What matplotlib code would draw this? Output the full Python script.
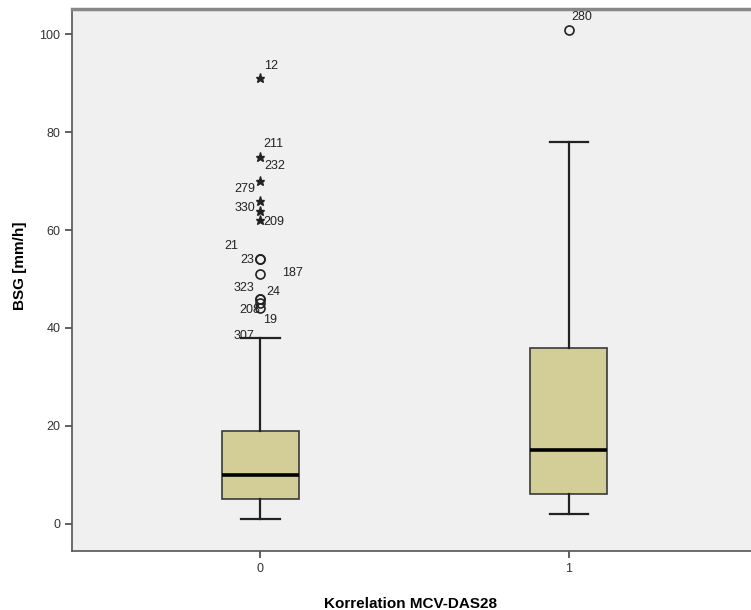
import matplotlib
matplotlib.use("Agg")
import matplotlib.pyplot as plt

# ---- data ----
groups = ["0", "1"]
q1 = [5, 6]
median = [10, 15]
q3 = [19, 36]
whislo = [1, 2]
whishi = [38, 78]

# outliers of group 0: case id, value, marker kind
g0_ids = ["12", "211", "232", "279", "330", "209", "21", "23", "187", "323", "24", "208", "19", "307"]
g0_vals = [91, 75, 70, 66, 64, 62, 54, 54, 51, 46, 46, 45, 44, 38]
g0_kind = ["*", "*", "*", "*", "*", "*", "o", "o", "o", "o", "o", "o", "o", ""]

# outliers of group 1
g1_ids = ["280"]
g1_vals = [101]
g1_kind = ["o"]

# label offsets in pixels (style only)
g0_off = [(11, 12), (13, 13), (14, 15), (-15, 12), (-15, 3), (14, -2), (-29, 13),
          (-13, -1), (32, 1), (-16, 11), (13, 7), (-11, -7), (10, -12), (-16, 2)]
g1_off = [(13, 13)]

plt.rcParams["font.family"] = ["Liberation Sans", "DejaVu Sans"]

fig = plt.figure(figsize=(7.51, 6.10), dpi=100)
ax = fig.add_axes([72 / 751, 1 - 551 / 610, 1 - 72 / 751, (551 - 9) / 610])
ax.set_facecolor("#f0f0f0")

stats = []
for i, g in enumerate(groups):
    stats.append(dict(label=g, q1=q1[i], med=median[i], q3=q3[i],
                      whislo=whislo[i], whishi=whishi[i], fliers=[]))

positions = [0, 1]
ax.bxp(stats, positions=positions, widths=0.25, patch_artist=True, showfliers=False,
       boxprops=dict(facecolor="#d3ce97", edgecolor="#3a3a3a", linewidth=1.2),
       medianprops=dict(color="black", linewidth=2.6),
       whiskerprops=dict(color="#222222", linewidth=1.6),
       capprops=dict(color="#222222", linewidth=1.6))


def draw_outliers(pos, ids, vals, kinds, offs):
    for cid, v, k, (dx, dy) in zip(ids, vals, kinds, offs):
        if k == "*":
            ax.plot(pos, v, marker="*", color="#222222", markersize=6.5, linestyle="none")
        elif k == "o":
            ax.plot(pos, v, marker="o", markerfacecolor="none", markeredgecolor="#222222",
                    markersize=6.5, markeredgewidth=1.2, linestyle="none")
        ax.annotate(cid, (pos, v), xytext=(dx, dy), textcoords="offset pixels",
                    ha="center", va="center", fontsize=9, color="#222222")


draw_outliers(positions[0], g0_ids, g0_vals, g0_kind, g0_off)
draw_outliers(positions[1], g1_ids, g1_vals, g1_kind, g1_off)

ax.set_xlim(-0.61, 1.59)
ax.set_ylim(-5.6, 105.2)
ax.set_yticks([0, 20, 40, 60, 80, 100])
ax.set_xticks(positions)
ax.set_xticklabels(groups)
ax.tick_params(axis="both", colors="#444444", labelcolor="#333333", labelsize=9, length=5, width=1.2)

ax.spines["right"].set_visible(False)
ax.spines["top"].set_color("#888888")
ax.spines["top"].set_linewidth(2.5)
ax.spines["left"].set_color("#555555")
ax.spines["bottom"].set_color("#555555")
ax.spines["left"].set_linewidth(1.2)
ax.spines["bottom"].set_linewidth(1.2)

ax.set_ylabel("BSG [mm/h]", fontsize=11, fontweight="bold")
ax.set_xlabel("Korrelation MCV-DAS28", fontsize=11, fontweight="bold")
ax.yaxis.set_label_coords(-0.066, 0.526)
ax.xaxis.set_label_coords(0.499, -0.085)

fig.savefig("out.png", dpi=100)
